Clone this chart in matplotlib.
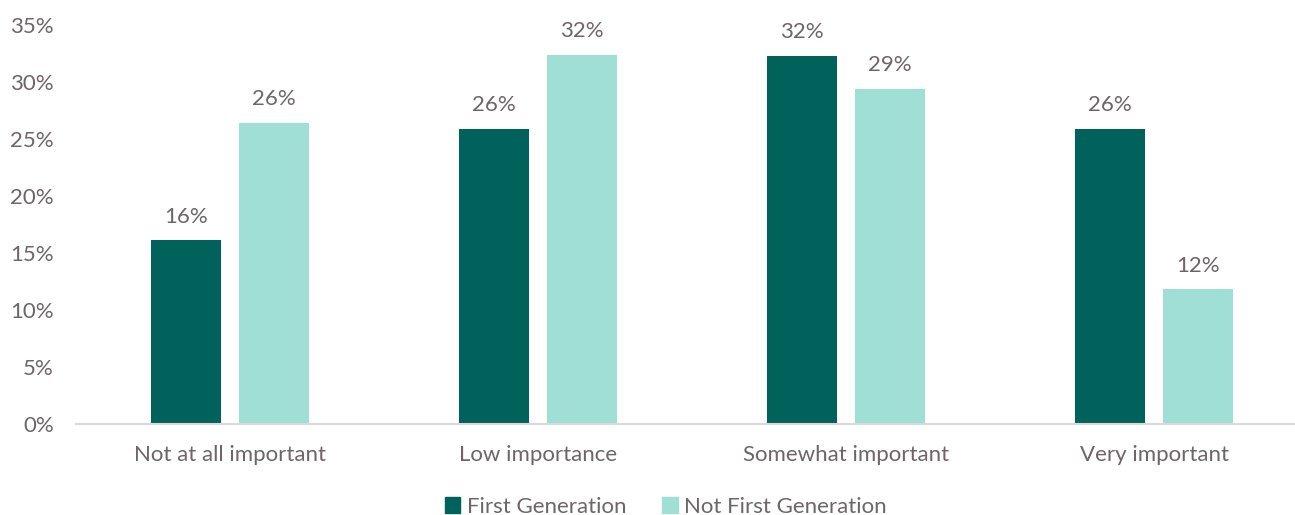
import matplotlib
matplotlib.use('Agg')
import matplotlib.pyplot as plt
from matplotlib.patches import Patch
import numpy as np

categories = ['Not at all important', 'Low importance', 'Somewhat important', 'Very important']
first_gen = [16.1, 25.9, 32.3, 25.9]
not_first_gen = [26.4, 32.4, 29.4, 11.8]
series_names = ['First Generation', 'Not First Generation']
y_ticks = [0, 5, 10, 15, 20, 25, 30, 35]

DARK = '#00625a'
LIGHT = '#9fdfd6'
TXT = '#6f6468'
FS = 16

plt.rcParams['font.family'] = ['Lato', 'DejaVu Sans']

fig = plt.figure(figsize=(12.95, 5.15), dpi=100)
# axes spans past the right edge so the groups are spaced evenly
ax = fig.add_axes([76 / 1295, 1 - 424 / 515, 1232 / 1295, (424 - 25) / 515])

x = np.arange(len(categories))
w = 0.227
off = 0.143
b1 = ax.bar(x - off, first_gen, w, color=DARK)
b2 = ax.bar(x + off, not_first_gen, w, color=LIGHT)

for bars, vals in ((b1, first_gen), (b2, not_first_gen)):
    for bar, v in zip(bars, vals):
        ax.annotate('%d%%' % round(v), (bar.get_x() + bar.get_width() / 2, v),
                    xytext=(0, 10), textcoords='offset points',
                    ha='center', va='bottom', fontsize=FS, color=TXT)

ax.set_xlim(-0.5, 3.5)
ax.set_ylim(0, 35)
ax.set_yticks(y_ticks)
ax.set_yticklabels(['%d%%' % t for t in y_ticks])
ax.set_xticks(x)
ax.set_xticklabels(categories)
ax.tick_params(axis='both', length=0, labelsize=FS, labelcolor=TXT)
ax.tick_params(axis='y', pad=16)
ax.tick_params(axis='x', pad=15)
for s in ('top', 'right', 'left'):
    ax.spines[s].set_visible(False)
ax.spines['bottom'].set_color('#d9d9d9')
ax.spines['bottom'].set_linewidth(1.5)

handles = [Patch(color=DARK), Patch(color=LIGHT)]
fig.legend(handles, series_names, loc='center', bbox_to_anchor=(666 / 1295, 1 - 507 / 515),
           ncol=2, frameon=False, fontsize=FS, labelcolor=TXT,
           handlelength=0.7, handleheight=0.7, handletextpad=0.3, columnspacing=1.6)

fig.savefig('out.png', dpi=100)
